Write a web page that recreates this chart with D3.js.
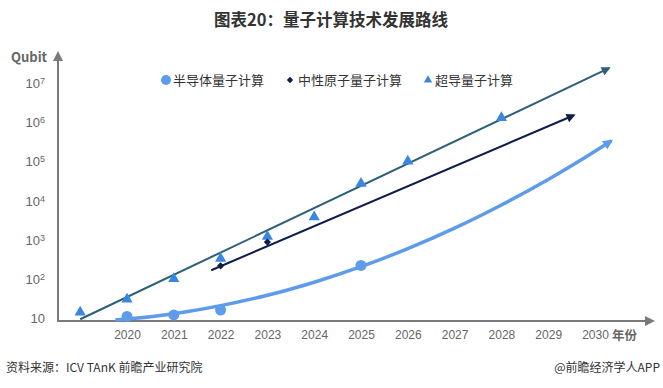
<!DOCTYPE html>
<html><head><meta charset="utf-8">
<script src="https://cdn.jsdelivr.net/npm/d3@7"></script>
<style>
body{margin:0;background:#fff;}
svg{font-family:"Noto Sans CJK SC","Noto Sans",sans-serif;}
</style></head>
<body><svg id="c" width="663" height="388"></svg>
<script>
// ---- data ----
const xTickYears = [2020,2021,2022,2023,2024,2025,2026,2027,2028,2029,2030];
const yTickValues = [10,1e2,1e3,1e4,1e5,1e6,1e7];
const legendNames = ["半导体量子计算","中性原子量子计算","超导量子计算"];

const semiYears  = [2020, 2021, 2022, 2025];
const semiValues = [11, 12, 16, 220];
const semiTrendYears  = [2019.75, 2020, 2021, 2022, 2023, 2024, 2025, 2026, 2027, 2028, 2029, 2030, 2030.35];
const semiTrendValues = [8.9, 9.4, 12.9, 20.7, 38, 82, 204, 590, 1970, 7700, 34500, 181000, 334000];

const atomYears  = [2022, 2023];
const atomValues = [215, 870];
const atomTrendYears  = [2021.8, 2029.55];
const atomTrendValues = [166, 1.5e6];

const superYears  = [2019, 2020, 2021, 2022, 2023, 2024, 2025, 2026, 2028];
const superValues = [14, 30, 100, 330, 1200, 3800, 27000, 100000, 1.3e6];
const superTrendYears  = [2019, 2030.3];
const superTrendValues = [9.3, 2.4e7];

// ---- chart ----
const svg = d3.select("#c");
const x = d3.scaleLinear().domain([2020, 2030]).range([127, 595]);
const y = d3.scaleLog().domain([10, 1e7]).range([318, 83]);

const cSemi = "#5e9bea", cAtom = "#0f1d4a", cSuper = "#2d5f78", cTri = "#3a86e2";

// title
svg.append("text").attr("x", 331).attr("y", 26).attr("text-anchor","middle")
  .attr("font-size", 16.5).attr("font-weight","bold").attr("fill","#333")
  .text("图表20：量子计算技术发展路线");

// arrow markers
const defs = svg.append("defs");
function marker(id, color, w, h){
  defs.append("marker").attr("id", id).attr("viewBox","0 0 10 10")
    .attr("refX", 8).attr("refY", 5).attr("markerWidth", w).attr("markerHeight", h)
    .attr("markerUnits","userSpaceOnUse").attr("orient","auto")
    .append("path").attr("d","M0,0 L10,5 L0,10 Z").attr("fill", color);
}
marker("aAxis", "#7a7a7a", 10, 10);
marker("aSuper", cSuper, 10, 9);
marker("aAtom", cAtom, 10, 9);
marker("aSemi", cSemi, 11, 10);

// axes
const axisColor = "#7a7a7a";
svg.append("line").attr("x1",58).attr("y1",321).attr("x2",58).attr("y2",53)
  .attr("stroke",axisColor).attr("stroke-width",2).attr("marker-end","url(#aAxis)");
svg.append("line").attr("x1",57).attr("y1",321).attr("x2",653).attr("y2",321)
  .attr("stroke",axisColor).attr("stroke-width",2).attr("marker-end","url(#aAxis)");

const xAxis = svg.append("g").attr("transform","translate(0,321)")
  .call(d3.axisBottom(x).tickValues(xTickYears).tickSize(0).tickPadding(9).tickFormat(d3.format("d")));
xAxis.select(".domain").remove();
xAxis.selectAll("text").attr("font-size",12).attr("fill","#666").attr("font-family","inherit");

const yAxis = svg.append("g").attr("transform","translate(45,0)")
  .call(d3.axisLeft(y).tickValues(yTickValues).tickSize(0).tickPadding(0).tickFormat(""));
yAxis.select(".domain").remove();
yAxis.selectAll(".tick").each(function(d){
  const t = d3.select(this).select("text").attr("font-size",13).attr("fill","#666")
     .attr("font-family","inherit").attr("text-anchor","end").attr("dy","0.35em");
  const e = Math.round(Math.log10(d));
  if (e === 1) { t.text("10"); }
  else {
    t.text(null);
    t.append("tspan").text("10");
    t.append("tspan").attr("dy","-0.45em").attr("font-size",9).text(e);
  }
});

svg.append("text").attr("x",11).attr("y",62).attr("font-size",13).attr("font-weight","bold")
  .attr("fill","#666").text("Qubit");
svg.append("text").attr("x",612).attr("y",340).attr("font-size",12.5).attr("font-weight","bold")
  .attr("fill","#666").text("年份");

// trend lines
const line = d3.line().x(d => x(d[0])).y(d => y(d[1]));
svg.append("path").datum(d3.zip(superTrendYears, superTrendValues))
  .attr("d", line).attr("fill","none").attr("stroke",cSuper).attr("stroke-width",2)
  .attr("marker-end","url(#aSuper)");
svg.append("path").datum(d3.zip(atomTrendYears, atomTrendValues))
  .attr("d", line).attr("fill","none").attr("stroke",cAtom).attr("stroke-width",2)
  .attr("marker-end","url(#aAtom)");
svg.append("path").datum(d3.zip(semiTrendYears, semiTrendValues))
  .attr("d", line.curve(d3.curveMonotoneX)).attr("fill","none").attr("stroke",cSemi).attr("stroke-width",3.5)
  .attr("marker-end","url(#aSemi)");

// markers
svg.append("g").selectAll("circle").data(d3.zip(semiYears, semiValues)).join("circle")
  .attr("cx", d => x(d[0])).attr("cy", d => y(d[1])).attr("r", 5.5).attr("fill", cSemi);
svg.append("g").selectAll("path").data(d3.zip(superYears, superValues)).join("path")
  .attr("transform", d => `translate(${x(d[0])},${y(d[1])})`)
  .attr("d", d3.symbol(d3.symbolTriangle, 55)).attr("fill", cTri);
svg.append("g").selectAll("path").data(d3.zip(atomYears, atomValues)).join("path")
  .attr("transform", d => `translate(${x(d[0])},${y(d[1])}) rotate(45)`)
  .attr("d", d3.symbol(d3.symbolSquare, 26)).attr("fill", cAtom);

// legend
const lg = svg.append("g").attr("font-size",13).attr("fill","#333");
lg.append("circle").attr("cx",166).attr("cy",80).attr("r",5).attr("fill",cSemi);
lg.append("text").attr("x",173).attr("y",85).text(legendNames[0]);
lg.append("path").attr("transform","translate(290,80) rotate(45)").attr("d", d3.symbol(d3.symbolSquare, 20)).attr("fill",cAtom);
lg.append("text").attr("x",298).attr("y",85).text(legendNames[1]);
lg.append("path").attr("transform","translate(428,80)").attr("d", d3.symbol(d3.symbolTriangle, 30)).attr("fill",cTri);
lg.append("text").attr("x",435).attr("y",85).text(legendNames[2]);

// footer
svg.append("text").attr("x",6).attr("y",372).attr("font-size",12).attr("fill","#333")
  .text("资料来源：ICV TAnK 前瞻产业研究院");
svg.append("text").attr("x",660).attr("y",372).attr("text-anchor","end").attr("font-size",12).attr("fill","#333")
  .text("@前瞻经济学人APP");
</script></body></html>
